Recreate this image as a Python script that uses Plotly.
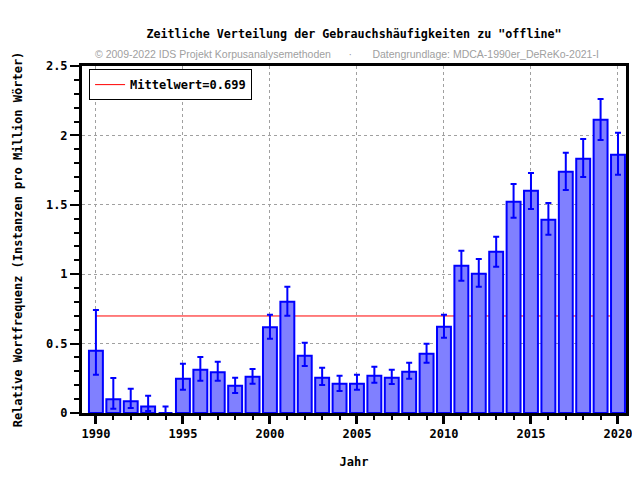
import plotly.graph_objects as go

# Jahre und relative Häufigkeiten (pro Million Wörter)
years = list(range(1990, 2021))
freq = [0.449, 0.099, 0.084, 0.046, 0.0, 0.247, 0.312, 0.293, 0.197, 0.262,
        0.617, 0.802, 0.413, 0.254, 0.211, 0.211, 0.269, 0.254, 0.298, 0.427,
        0.622, 1.061, 1.004, 1.162, 1.522, 1.602, 1.393, 1.738, 1.832, 2.113,
        1.861]
ci_upper = [0.742, 0.252, 0.175, 0.125, 0.046, 0.355, 0.403, 0.370, 0.254, 0.317,
            0.708, 0.910, 0.506, 0.326, 0.269, 0.276, 0.334, 0.312, 0.362, 0.499,
            0.708, 1.169, 1.110, 1.270, 1.650, 1.729, 1.513, 1.875, 1.974, 2.262,
            2.019]
ci_lower = [0.276, 0.031, 0.036, 0.014, 0.0, 0.168, 0.233, 0.233, 0.144, 0.211,
            0.535, 0.701, 0.339, 0.202, 0.159, 0.168, 0.218, 0.209, 0.247, 0.362,
            0.543, 0.953, 0.910, 1.054, 1.407, 1.470, 1.285, 1.607, 1.700, 1.967,
            1.717]
mean_value = 0.699

err_plus = [u - v for u, v in zip(ci_upper, freq)]
err_minus = [v - l for v, l in zip(freq, ci_lower)]

MONO = "DejaVu Sans Mono"
bold_font = dict(family=MONO, size=12, color="black", weight="bold")

# page body has an 8px margin, so the figure is a bit smaller than the window
W, H = 632, 472

fig = go.Figure()
fig.add_trace(go.Bar(
    x=years, y=freq,
    marker=dict(color="#8080ff", line=dict(color="#0000ff", width=2)),
    error_y=dict(type="data", symmetric=False, array=err_plus, arrayminus=err_minus,
                 color="#0000ff", thickness=2, width=3),
    showlegend=False,
))
# legend entry for mean line (line itself drawn as shape behind the bars)
fig.add_trace(go.Scatter(
    x=[None], y=[None], mode="lines",
    line=dict(color="red", width=1),
    name=f"Mittelwert={mean_value}",
))
fig.add_shape(type="line", x0=years[0], x1=years[-1], y0=mean_value, y1=mean_value,
              xref="x", yref="y", line=dict(color="red", width=1), layer="between")

fig.add_annotation(
    text="© 2009-2022 IDS Projekt Korpusanalysemethoden      ·       Datengrundlage: MDCA-1990er_DeReKo-2021-I",
    xref="paper", yref="paper", x=0.488, y=1.058, showarrow=False,
    font=dict(family="Liberation Sans", size=10.5, color="#a0a0a0"),
)

fig.update_layout(
    width=W, height=H,
    margin=dict(l=74, r=14, t=58, b=67),
    paper_bgcolor="white", plot_bgcolor="white",
    title=dict(text='Zeitliche Verteilung der Gebrauchshäufigkeiten zu "offline"',
               x=346 / W, xanchor="center", y=1 - 26 / H, yanchor="middle",
               font=dict(bold_font, size=11.7)),
    bargap=0.2,
    legend=dict(x=0.013, y=0.991, xanchor="left", yanchor="top",
                bgcolor="white", bordercolor="black", borderwidth=1,
                font=bold_font, itemwidth=30),
    xaxis=dict(
        range=[1989.2, 2020.46], tick0=1990, dtick=5, automargin=False,
        ticks="outside", ticklen=8, tickwidth=3, tickcolor="black",
        minor=dict(dtick=1, ticks="outside", ticklen=4, tickwidth=2, tickcolor="black",
                   showgrid=False),
        showline=True, linecolor="black", linewidth=3, mirror=True,
        showgrid=True, gridcolor="#a0a0a0", griddash="dot", gridwidth=1,
        tickfont=bold_font, zeroline=False,
        title=dict(text="Jahr", font=bold_font, standoff=18),
    ),
    yaxis=dict(
        range=[0, 2.5], dtick=0.5, automargin=False,
        ticks="outside", ticklen=9, tickwidth=2, tickcolor="black",
        minor=dict(dtick=0.1, ticks="outside", ticklen=5, tickwidth=2, tickcolor="black",
                   showgrid=False),
        showline=True, linecolor="black", linewidth=3, mirror=True,
        showgrid=True, gridcolor="#a0a0a0", griddash="dot", gridwidth=1,
        tickfont=bold_font, zeroline=False,
        title=dict(text="Relative Wortfrequenz (Instanzen pro Million Wörter)",
                   font=bold_font, standoff=21),
    ),
)

fig.write_html("out.html")
